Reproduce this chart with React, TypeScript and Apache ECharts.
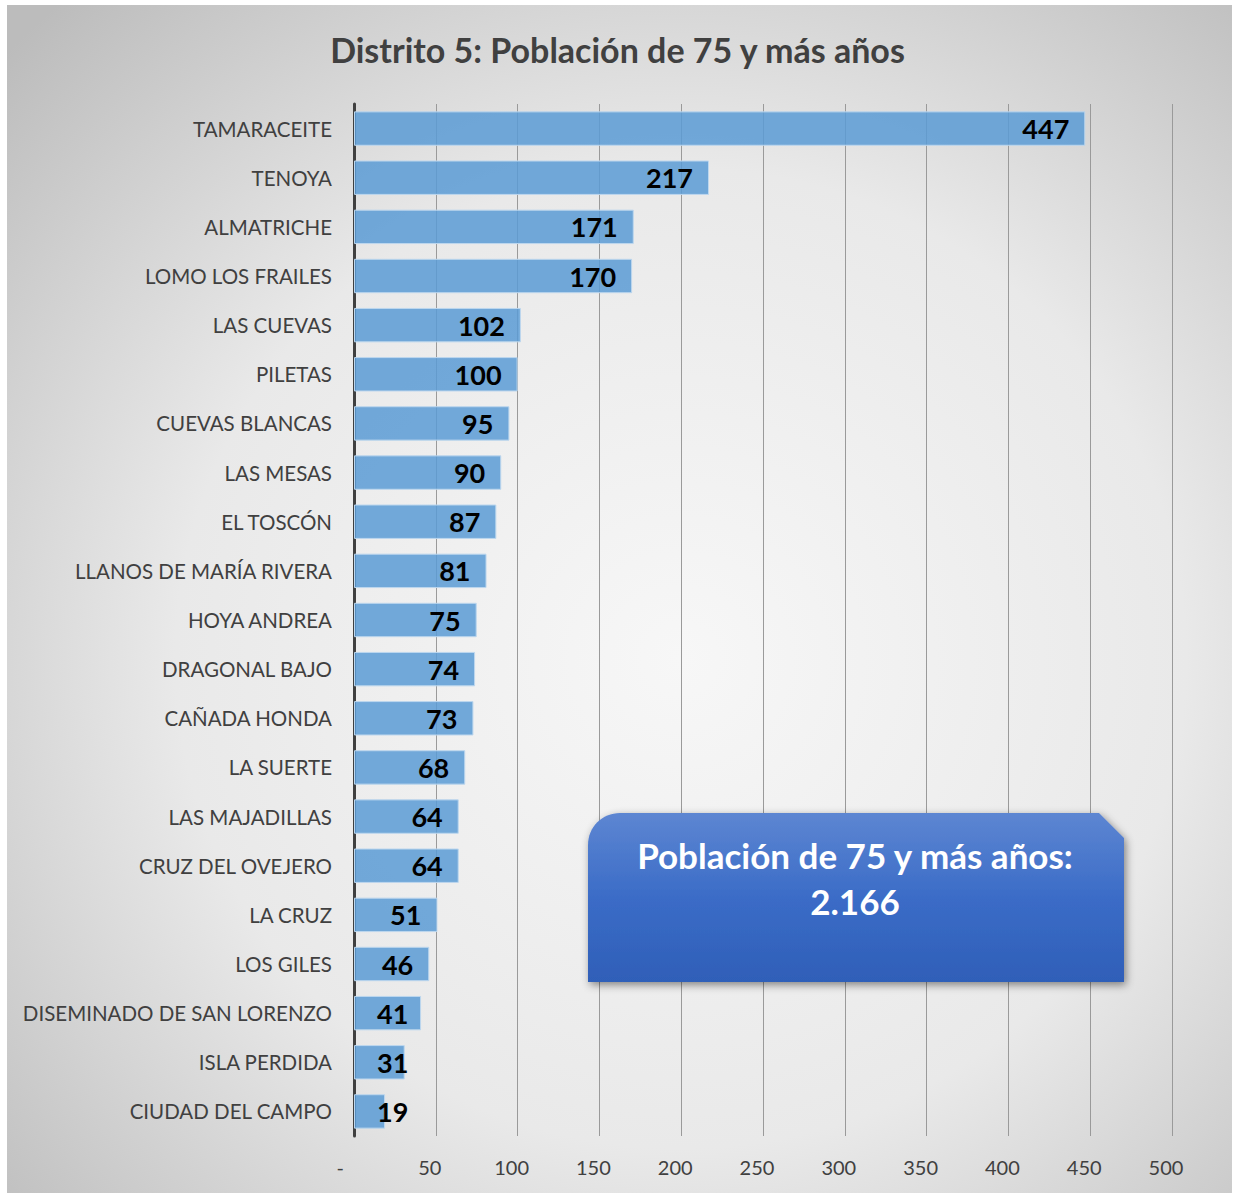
import React, { useEffect, useRef } from "react";
import * as echarts from "echarts";

const categories = [
  "TAMARACEITE",
  "TENOYA",
  "ALMATRICHE",
  "LOMO LOS FRAILES",
  "LAS CUEVAS",
  "PILETAS",
  "CUEVAS BLANCAS",
  "LAS MESAS",
  "EL TOSCÓN",
  "LLANOS DE MARÍA RIVERA",
  "HOYA ANDREA",
  "DRAGONAL BAJO",
  "CAÑADA HONDA",
  "LA SUERTE",
  "LAS MAJADILLAS",
  "CRUZ DEL OVEJERO",
  "LA CRUZ",
  "LOS GILES",
  "DISEMINADO DE SAN LORENZO",
  "ISLA PERDIDA",
  "CIUDAD DEL CAMPO",
];

const values = [447, 217, 171, 170, 102, 100, 95, 90, 87, 81, 75, 74, 73, 68, 64, 64, 51, 46, 41, 31, 19];

const titleText = "Distrito 5: Población de 75 y más años";
const boxLines = ["Población de 75 y más años:", "2.166"];

const FONT = "Lato, 'Open Sans', sans-serif";

export default function App() {
  const ref = useRef<HTMLDivElement>(null);

  useEffect(() => {
    if (!ref.current) return;
    echarts.graphic.registerShape(
      "calloutBox",
      echarts.graphic.extendPath(
        "M0 32 C0 14 14 0 32 0 L511 0 L536 25 L536 169 L0 169 Z",
        {}
      )
    );
    const chart = echarts.init(ref.current, null, { renderer: "svg" });

    const data = values.map((v) => ({
      value: v,
      label:
        v < 45
          ? { position: "insideLeft", distance: 23 }
          : { position: "insideRight", distance: 16 },
    }));

    chart.setOption({
      animation: false,
      title: {
        text: titleText,
        left: "center",
        top: 27,
        textStyle: {
          fontFamily: FONT,
          fontSize: 34,
          fontWeight: "bold",
          color: "#404040",
        },
      },
      grid: { left: 354, right: 63, top: 104, bottom: 58, containLabel: false },
      xAxis: {
        type: "value",
        min: 0,
        max: 500,
        interval: 50,
        axisLine: { show: false },
        axisTick: { show: false },
        splitLine: { show: true, lineStyle: { color: "#9a9a9a", width: 1 } },
        axisLabel: {
          fontFamily: FONT,
          fontSize: 20,
          color: "#404040",
          margin: 21,
          padding: [0, 12, 0, 0],
          formatter: (v: number) => (v === 0 ? "-   " : String(v)),
        },
      },
      yAxis: {
        type: "category",
        data: categories,
        inverse: true,
        axisLine: { show: true, lineStyle: { color: "#404040", width: 3 } },
        axisTick: { show: false },
        axisLabel: {
          fontFamily: FONT,
          fontSize: 20.5,
          color: "#404040",
          margin: 22,
        },
      },
      series: [
        {
          type: "bar",
          data,
          barCategoryGap: "30%",
          itemStyle: {
            color: "rgba(91,155,213,0.85)",
            borderColor: "#bdd7ee",
            borderWidth: 1,
          },
          label: {
            show: true,
            fontFamily: FONT,
            fontSize: 27,
            fontWeight: "bold",
            color: "#000000",
          },
          z: 3,
        },
      ],
      graphic: [
        {
          type: "rect",
          z: -10,
          silent: true,
          shape: { x: 7, y: 5, width: 1225, height: 1188 },
          style: {
            fill: {
              type: "radial",
              x: 0.55,
              y: 0.55,
              r: 0.75,
              colorStops: [
                { offset: 0, color: "#f7f7f7" },
                { offset: 0.55, color: "#e9e9e9" },
                { offset: 1, color: "#bcbcbc" },
              ],
            },
          },
        },
        {
          type: "calloutBox",
          x: 588,
          y: 813,
          z: 10,
          style: {
            fill: {
              type: "linear",
              x: 0,
              y: 0,
              x2: 0,
              y2: 1,
              colorStops: [
                { offset: 0, color: "#5d86d2" },
                { offset: 0.5, color: "#3b6cc7" },
                { offset: 1, color: "#2f5fb8" },
              ],
            },
            shadowBlur: 8,
            shadowOffsetX: 2,
            shadowOffsetY: 3,
            shadowColor: "rgba(0,0,0,0.45)",
          },
        },
        {
          type: "text",
          z: 11,
          x: 855,
          y: 855,
          style: {
            text: boxLines[0],
            fill: "#ffffff",
            fontFamily: FONT,
            fontSize: 35,
            fontWeight: "bold",
            align: "center",
            verticalAlign: "middle",
          },
        },
        {
          type: "text",
          z: 11,
          x: 855,
          y: 901,
          style: {
            text: boxLines[1],
            fill: "#ffffff",
            fontFamily: FONT,
            fontSize: 35,
            fontWeight: "bold",
            align: "center",
            verticalAlign: "middle",
          },
        },
      ],
    });

    return () => chart.dispose();
  }, []);

  return (
    <div
      ref={ref}
      style={{ position: "absolute", left: 0, top: 0, width: 1235, height: 1194, background: "#ffffff" }}
    />
  );
}
